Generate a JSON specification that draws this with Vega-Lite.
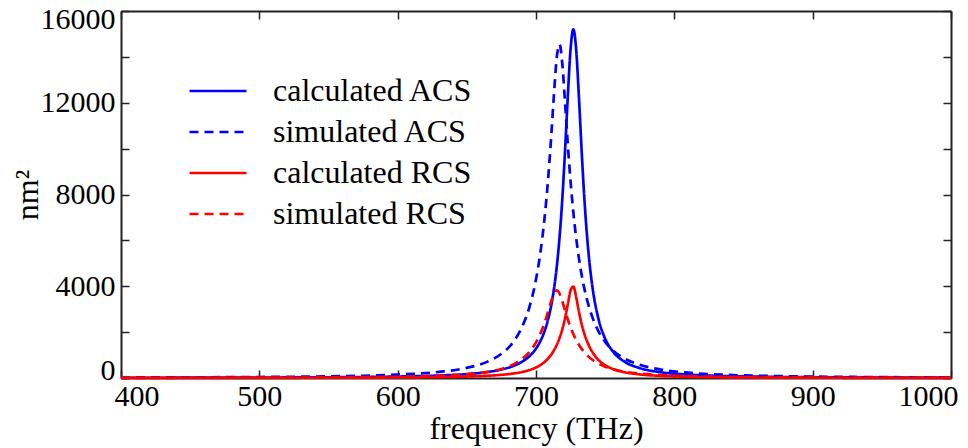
{
"$schema": "https://vega.github.io/schema/vega-lite/v6.json",
"width": 830, "height": 367,
"autosize": "none",
"padding": {"left": 121, "top": 11, "right": 17, "bottom": 70},
"background": "white",
"config": {"view": {"stroke": null}, "font": "Liberation Serif"},
"data": {"values": [
{"f":400,"v":9.5,"s":"calculated ACS"},{"f":450,"v":13.3,"s":"calculated ACS"},{"f":500,"v":19.8,"s":"calculated ACS"},{"f":550,"v":32.5,"s":"calculated ACS"},{"f":600,"v":63.1,"s":"calculated ACS"},{"f":630,"v":107.8,"s":"calculated ACS"},{"f":650,"v":170.4,"s":"calculated ACS"},{"f":665,"v":261.2,"s":"calculated ACS"},{"f":675,"v":368.6,"s":"calculated ACS"},{"f":683,"v":510,"s":"calculated ACS"},{"f":690,"v":711,"s":"calculated ACS"},{"f":695,"v":936,"s":"calculated ACS"},{"f":699,"v":1200,"s":"calculated ACS"},{"f":703,"v":1589,"s":"calculated ACS"},{"f":706,"v":2011,"s":"calculated ACS"},{"f":709,"v":2612,"s":"calculated ACS"},{"f":711,"v":3162,"s":"calculated ACS"},{"f":713,"v":3884,"s":"calculated ACS"},{"f":715,"v":4841,"s":"calculated ACS"},{"f":717,"v":6116,"s":"calculated ACS"},{"f":719,"v":7785,"s":"calculated ACS"},{"f":721,"v":9905,"s":"calculated ACS"},{"f":723,"v":12280,"s":"calculated ACS"},{"f":725,"v":14346,"s":"calculated ACS"},{"f":727,"v":15200,"s":"calculated ACS"},{"f":729,"v":14346,"s":"calculated ACS"},{"f":731,"v":12280,"s":"calculated ACS"},{"f":733,"v":9905,"s":"calculated ACS"},{"f":735,"v":7785,"s":"calculated ACS"},{"f":738,"v":5428,"s":"calculated ACS"},{"f":741,"v":3884,"s":"calculated ACS"},{"f":745,"v":2612,"s":"calculated ACS"},{"f":750,"v":1713,"s":"calculated ACS"},{"f":756,"v":1125,"s":"calculated ACS"},{"f":764,"v":711,"s":"calculated ACS"},{"f":775,"v":431,"s":"calculated ACS"},{"f":790,"v":253,"s":"calculated ACS"},{"f":810,"v":147,"s":"calculated ACS"},{"f":840,"v":80,"s":"calculated ACS"},{"f":880,"v":44,"s":"calculated ACS"},{"f":930,"v":25,"s":"calculated ACS"},{"f":1000,"v":14,"s":"calculated ACS"},
{"f":400,"v":20.6,"s":"simulated ACS"},{"f":450,"v":29,"s":"simulated ACS"},{"f":500,"v":43.8,"s":"simulated ACS"},{"f":550,"v":73.8,"s":"simulated ACS"},{"f":600,"v":149,"s":"simulated ACS"},{"f":630,"v":267,"s":"simulated ACS"},{"f":650,"v":442,"s":"simulated ACS"},{"f":665,"v":714,"s":"simulated ACS"},{"f":675,"v":1055,"s":"simulated ACS"},{"f":683,"v":1528,"s":"simulated ACS"},{"f":690,"v":2232,"s":"simulated ACS"},{"f":695,"v":3040,"s":"simulated ACS"},{"f":699,"v":3998,"s":"simulated ACS"},{"f":703,"v":5393,"s":"simulated ACS"},{"f":706,"v":6867,"s":"simulated ACS"},{"f":709,"v":8862,"s":"simulated ACS"},{"f":711,"v":10535,"s":"simulated ACS"},{"f":713,"v":12384,"s":"simulated ACS"},{"f":715,"v":13972,"s":"simulated ACS"},{"f":717,"v":14549,"s":"simulated ACS"},{"f":719,"v":13709,"s":"simulated ACS"},{"f":721,"v":12009,"s":"simulated ACS"},{"f":723,"v":10178,"s":"simulated ACS"},{"f":725,"v":8559,"s":"simulated ACS"},{"f":727,"v":7219,"s":"simulated ACS"},{"f":729,"v":6123,"s":"simulated ACS"},{"f":731,"v":5228,"s":"simulated ACS"},{"f":733,"v":4492,"s":"simulated ACS"},{"f":735,"v":3885,"s":"simulated ACS"},{"f":738,"v":3163,"s":"simulated ACS"},{"f":741,"v":2610,"s":"simulated ACS"},{"f":745,"v":2059,"s":"simulated ACS"},{"f":750,"v":1575,"s":"simulated ACS"},{"f":756,"v":1182,"s":"simulated ACS"},{"f":764,"v":847,"s":"simulated ACS"},{"f":775,"v":574,"s":"simulated ACS"},{"f":790,"v":371,"s":"simulated ACS"},{"f":810,"v":232,"s":"simulated ACS"},{"f":840,"v":134,"s":"simulated ACS"},{"f":880,"v":77,"s":"simulated ACS"},{"f":930,"v":45,"s":"simulated ACS"},{"f":1000,"v":26,"s":"simulated ACS"},
{"f":400,"v":3.6,"s":"calculated RCS"},{"f":450,"v":5.1,"s":"calculated RCS"},{"f":500,"v":7.6,"s":"calculated RCS"},{"f":550,"v":12.4,"s":"calculated RCS"},{"f":600,"v":24.1,"s":"calculated RCS"},{"f":630,"v":41.1,"s":"calculated RCS"},{"f":650,"v":64.8,"s":"calculated RCS"},{"f":665,"v":99,"s":"calculated RCS"},{"f":675,"v":139,"s":"calculated RCS"},{"f":683,"v":190.5,"s":"calculated RCS"},{"f":690,"v":263,"s":"calculated RCS"},{"f":695,"v":342,"s":"calculated RCS"},{"f":699,"v":430,"s":"calculated RCS"},{"f":703,"v":557,"s":"calculated RCS"},{"f":706,"v":688,"s":"calculated RCS"},{"f":709,"v":865,"s":"calculated RCS"},{"f":711,"v":1018,"s":"calculated RCS"},{"f":713,"v":1208,"s":"calculated RCS"},{"f":715,"v":1445,"s":"calculated RCS"},{"f":717,"v":1742,"s":"calculated RCS"},{"f":719,"v":2121,"s":"calculated RCS"},{"f":721,"v":2608,"s":"calculated RCS"},{"f":723,"v":3215,"s":"calculated RCS"},{"f":725,"v":3818,"s":"calculated RCS"},{"f":727,"v":3987,"s":"calculated RCS"},{"f":729,"v":3538,"s":"calculated RCS"},{"f":731,"v":2898,"s":"calculated RCS"},{"f":733,"v":2349,"s":"calculated RCS"},{"f":735,"v":1920,"s":"calculated RCS"},{"f":738,"v":1445,"s":"calculated RCS"},{"f":741,"v":1107,"s":"calculated RCS"},{"f":745,"v":799,"s":"calculated RCS"},{"f":750,"v":557,"s":"calculated RCS"},{"f":756,"v":382,"s":"calculated RCS"},{"f":764,"v":250,"s":"calculated RCS"},{"f":775,"v":156,"s":"calculated RCS"},{"f":790,"v":93,"s":"calculated RCS"},{"f":810,"v":55,"s":"calculated RCS"},{"f":840,"v":30,"s":"calculated RCS"},{"f":880,"v":16,"s":"calculated RCS"},{"f":930,"v":9,"s":"calculated RCS"},{"f":1000,"v":5,"s":"calculated RCS"},
{"f":400,"v":7.4,"s":"simulated RCS"},{"f":450,"v":10.5,"s":"simulated RCS"},{"f":500,"v":15.9,"s":"simulated RCS"},{"f":550,"v":27,"s":"simulated RCS"},{"f":600,"v":54.9,"s":"simulated RCS"},{"f":630,"v":98.8,"s":"simulated RCS"},{"f":650,"v":164.5,"s":"simulated RCS"},{"f":665,"v":267,"s":"simulated RCS"},{"f":675,"v":395,"s":"simulated RCS"},{"f":683,"v":572,"s":"simulated RCS"},{"f":690,"v":830,"s":"simulated RCS"},{"f":695,"v":1118,"s":"simulated RCS"},{"f":699,"v":1449,"s":"simulated RCS"},{"f":703,"v":1910,"s":"simulated RCS"},{"f":706,"v":2371,"s":"simulated RCS"},{"f":709,"v":2941,"s":"simulated RCS"},{"f":711,"v":3348,"s":"simulated RCS"},{"f":713,"v":3684,"s":"simulated RCS"},{"f":715,"v":3820,"s":"simulated RCS"},{"f":717,"v":3684,"s":"simulated RCS"},{"f":719,"v":3348,"s":"simulated RCS"},{"f":721,"v":2941,"s":"simulated RCS"},{"f":723,"v":2550,"s":"simulated RCS"},{"f":725,"v":2205,"s":"simulated RCS"},{"f":727,"v":1910,"s":"simulated RCS"},{"f":729,"v":1660,"s":"simulated RCS"},{"f":731,"v":1449,"s":"simulated RCS"},{"f":733,"v":1270,"s":"simulated RCS"},{"f":735,"v":1118,"s":"simulated RCS"},{"f":738,"v":932,"s":"simulated RCS"},{"f":741,"v":784,"s":"simulated RCS"},{"f":745,"v":632,"s":"simulated RCS"},{"f":750,"v":494,"s":"simulated RCS"},{"f":756,"v":379,"s":"simulated RCS"},{"f":764,"v":277,"s":"simulated RCS"},{"f":775,"v":191,"s":"simulated RCS"},{"f":790,"v":126,"s":"simulated RCS"},{"f":810,"v":80,"s":"simulated RCS"},{"f":840,"v":47,"s":"simulated RCS"},{"f":880,"v":27,"s":"simulated RCS"},{"f":930,"v":16,"s":"simulated RCS"},{"f":1000,"v":9,"s":"simulated RCS"}
]},
"layer": [
{
"mark": {"type": "line", "strokeWidth": 2.7, "interpolate": "monotone"},
"encoding": {
"x": {"field": "f", "type": "quantitative",
 "scale": {"domain": [400, 1000], "nice": false, "zero": false},
 "axis": {"orient": "bottom", "values": [400,500,600,700,800,900,1000], "format": "d", "grid": false,
  "domainColor": "#222", "domainWidth": 2, "tickColor": "#222", "tickWidth": 1.5, "tickSize": -8,
  "labelFont": "Liberation Serif", "labelFontSize": 30, "labelColor": "black", "labelPadding": 11, "labelFlush": true, "labelFlushOffset": 7,
  "title": "frequency (THz)", "titleFont": "Liberation Serif", "titleFontSize": 32, "titleFontWeight": "normal", "titleColor": "black", "titlePadding": 2}},
"y": {"field": "v", "type": "quantitative",
 "scale": {"domain": [0, 16000], "nice": false},
 "axis": {"orient": "left", "values": [0,2000,4000,6000,8000,10000,12000,14000,16000], "format": "d", "grid": false,
  "labelExpr": "datum.value % 4000 === 0 ? datum.label : ''",
  "domainColor": "#222", "domainWidth": 2, "tickColor": "#222", "tickWidth": 1.5, "tickSize": -8,
  "labelFont": "Liberation Serif", "labelFontSize": 30, "labelColor": "black", "labelPadding": 14, "labelFlush": true, "labelFlushOffset": 7,
  "title": "nm²", "titleFont": "Liberation Serif", "titleFontSize": 32, "titleFontWeight": "normal", "titleColor": "black", "titlePadding": -4}},
"color": {"field": "s", "type": "nominal",
 "scale": {"domain": ["calculated ACS", "simulated ACS", "calculated RCS", "simulated RCS"], "range": ["#0000ff", "#0000ff", "#ff0000", "#ff0000"]},
 "legend": {"title": null, "orient": "none", "legendX": 81, "legendY": 64, "symbolType": "M-2,0H2", "symbolSize": 812, "symbolStrokeWidth": 2.7,
  "labelFont": "Liberation Serif", "labelFontSize": 32, "labelColor": "black", "labelOffset": 39, "rowPadding": 9, "labelLimit": 400}},
"strokeDash": {"field": "s", "type": "nominal",
 "scale": {"domain": ["calculated ACS", "simulated ACS", "calculated RCS", "simulated RCS"], "range": [[1,0],[9,6],[1,0],[9,6]]},
 "legend": {"title": null, "orient": "none", "legendX": 81, "legendY": 64, "symbolType": "M-2,0H2", "symbolSize": 812, "symbolStrokeWidth": 2.7,
  "labelFont": "Liberation Serif", "labelFontSize": 32, "labelColor": "black", "labelOffset": 39, "rowPadding": 9, "labelLimit": 400}}
}
},
{
"mark": {"type": "line", "strokeOpacity": 0},
"encoding": {
"x": {"field": "f", "type": "quantitative",
 "axis": {"orient": "top", "values": [400,500,600,700,800,900,1000], "labels": false, "title": null, "grid": false,
  "domainColor": "#222", "domainWidth": 2, "tickColor": "#222", "tickWidth": 1.5, "tickSize": -8}},
"y": {"field": "v", "type": "quantitative",
 "axis": {"orient": "right", "values": [0,2000,4000,6000,8000,10000,12000,14000,16000], "labels": false, "title": null, "grid": false,
  "domainColor": "#222", "domainWidth": 2, "tickColor": "#222", "tickWidth": 1.5, "tickSize": -8}}
}
}
],
"resolve": {"axis": {"x": "independent", "y": "independent"}}
}
